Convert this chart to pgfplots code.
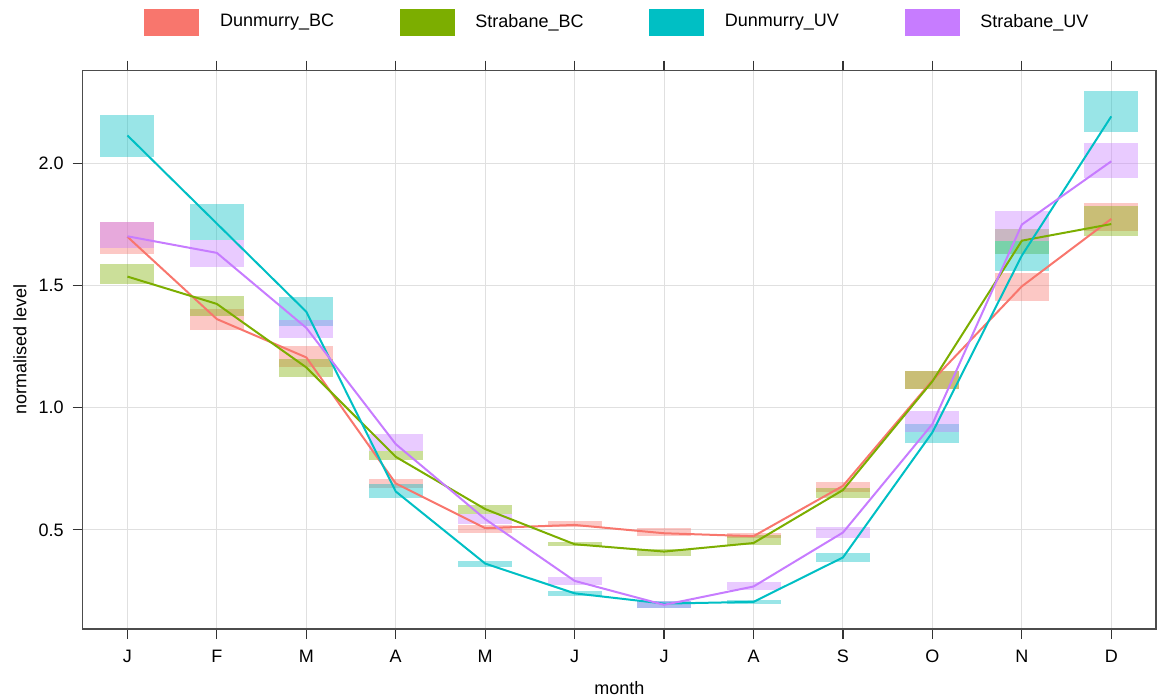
\documentclass[border=0pt]{standalone}
\usepackage{pgfplots}
\usepackage{pgfplotstable}
\pgfplotsset{compat=1.18}
\usepackage{fontspec}
\setmainfont{Liberation Sans}
\definecolor{dunBC}{HTML}{F8766D}
\definecolor{strBC}{HTML}{7CAE00}
\definecolor{dunUV}{HTML}{00BFC4}
\definecolor{strUV}{HTML}{C77CFF}

\pgfplotstableread{
m v lo hi
1 1.700 1.630 1.759
2 1.363 1.318 1.404
3 1.206 1.165 1.254
4 0.690 0.673 0.710
5 0.507 0.489 0.519
6 0.520 0.510 0.537
7 0.486 0.474 0.507
8 0.474 0.466 0.486
9 0.680 0.653 0.694
10 1.112 1.077 1.149
11 1.497 1.435 1.552
12 1.773 1.722 1.839
}\dunBCtab

\pgfplotstableread{
m v lo hi
1 1.537 1.507 1.589
2 1.425 1.377 1.459
3 1.165 1.127 1.199
4 0.799 0.786 0.824
5 0.585 0.564 0.602
6 0.441 0.434 0.452
7 0.411 0.393 0.421
8 0.446 0.436 0.480
9 0.663 0.632 0.671
10 1.108 1.077 1.149
11 1.684 1.630 1.732
12 1.752 1.703 1.827
}\strBCtab

\pgfplotstableread{
m v lo hi
1 2.115 2.027 2.197
2 1.754 1.686 1.835
3 1.393 1.333 1.455
4 0.657 0.630 0.687
5 0.362 0.346 0.373
6 0.240 0.230 0.250
7 0.198 0.179 0.209
8 0.205 0.198 0.213
9 0.387 0.370 0.404
10 0.899 0.854 0.933
11 1.623 1.559 1.684
12 2.193 2.128 2.295
}\dunUVtab

\pgfplotstableread{
m v lo hi
1 1.702 1.654 1.759
2 1.634 1.575 1.686
3 1.327 1.284 1.361
4 0.851 0.824 0.892
5 0.544 0.523 0.564
6 0.291 0.275 0.305
7 0.193 0.179 0.209
8 0.268 0.253 0.287
9 0.489 0.466 0.512
10 0.933 0.899 0.985
11 1.750 1.684 1.807
12 2.009 1.941 2.083
}\strUVtab

\pgfplotsset{
  cibox/.style={forget plot, draw=none, no markers,
    error bars/.cd, y dir=plus, y explicit, error mark=none,
    error bar style={line width=27pt, draw=#1, draw opacity=0.4}},
  serline/.style={forget plot, no marks, line width=1pt, color=#1},
}

\begin{document}
\begin{tikzpicture}
\path[use as bounding box] (-41.35pt,-35.5pt) rectangle (537.15pt,314.5pt);
\begin{axis}[
  at={(0,0)}, anchor=south west,
  scale only axis,
  width=536.65pt, height=279.15pt,
  xmin=0.5, xmax=12.5, ymin=0.094, ymax=2.380,
  xtick={1,...,12},
  xticklabels={J,F,M,A,M,J,J,A,S,O,N,D},
  ytick={0.5,1.0,1.5,2.0},
  xtick pos=both, ytick pos=left,
  xticklabel pos=bottom,
  tick align=outside,
  major tick length=5pt,
  tick style={black!80, line width=0.6pt},
  axis line style={black!70, line width=0.7pt},
  grid=major,
  major grid style={black!12, line width=0.5pt},
  /pgf/number format/.cd, fixed, fixed zerofill, precision=1, assume math mode=true,
  /pgfplots/.cd,
  tick label style={font=\fontsize{9}{10.8}\selectfont, text=black},
  xticklabel style={yshift=-2pt},
  yticklabel style={xshift=-1pt},
  label style={font=\fontsize{9}{10.8}\selectfont},
  xlabel={month}, ylabel={normalised level},
  xlabel style={at={(axis description cs:0.5,-0.1057)}, anchor=center},
  ylabel style={at={(axis description cs:-0.0584,0.5)}, anchor=center},
  legend columns=4,
  legend style={draw=none, fill=none,
    at={(axis description cs:0.5,1)}, anchor=center, yshift=24.35pt, xshift=-0.5pt,
    font=\fontsize{9}{10.8}\selectfont,
    /tikz/every odd column/.append style={column sep=8.5pt},
    /tikz/every even column/.append style={column sep=30.8pt}},
]
\addplot[cibox=dunBC] table[x=m, y=lo, y error expr=\thisrow{hi}-\thisrow{lo}] {\dunBCtab};
\addplot[cibox=strBC] table[x=m, y=lo, y error expr=\thisrow{hi}-\thisrow{lo}] {\strBCtab};
\addplot[cibox=dunUV] table[x=m, y=lo, y error expr=\thisrow{hi}-\thisrow{lo}] {\dunUVtab};
\addplot[cibox=strUV] table[x=m, y=lo, y error expr=\thisrow{hi}-\thisrow{lo}] {\strUVtab};

\addplot[serline=dunBC] table[x=m, y=v] {\dunBCtab};
\addplot[serline=strBC] table[x=m, y=v] {\strBCtab};
\addplot[serline=dunUV] table[x=m, y=v] {\dunUVtab};
\addplot[serline=strUV] table[x=m, y=v] {\strUVtab};

\addlegendimage{legend image code/.code={\fill[dunBC] (0pt,-6.5pt) rectangle (27pt,6.5pt);}}
\addlegendentry{Dunmurry\_BC}
\addlegendimage{legend image code/.code={\fill[strBC] (0pt,-6.5pt) rectangle (27pt,6.5pt);}}
\addlegendentry{Strabane\_BC}
\addlegendimage{legend image code/.code={\fill[dunUV] (0pt,-6.5pt) rectangle (27pt,6.5pt);}}
\addlegendentry{Dunmurry\_UV}
\addlegendimage{legend image code/.code={\fill[strUV] (0pt,-6.5pt) rectangle (27pt,6.5pt);}}
\addlegendentry{Strabane\_UV}
\end{axis}
\end{tikzpicture}
\end{document}
